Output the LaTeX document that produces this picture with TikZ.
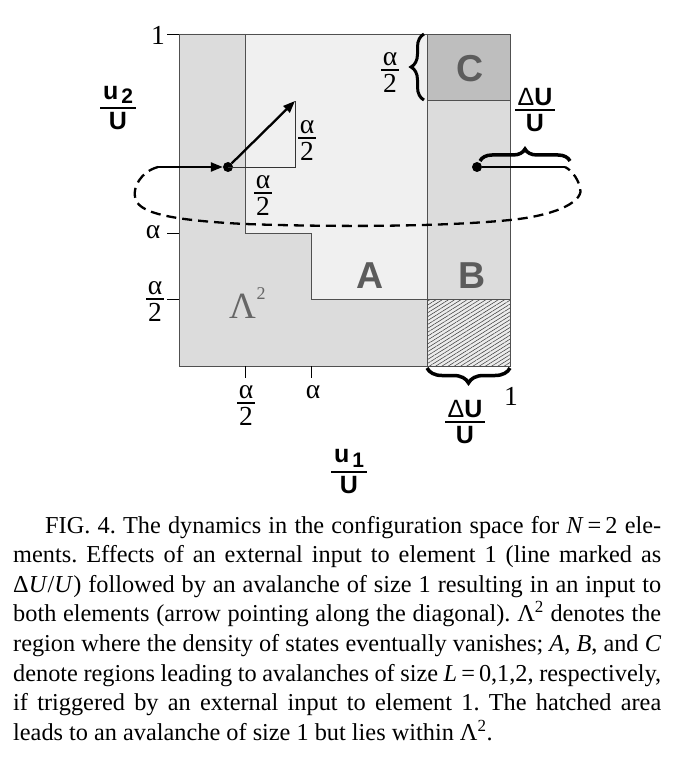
\documentclass[tikz,border=0pt]{standalone}
\usepackage{fontspec}
\setmainfont{Liberation Serif}
\newfontfamily\hsans{Liberation Sans}
\usetikzlibrary{decorations.pathreplacing,patterns.meta,arrows.meta}
\definecolor{lamgray}{HTML}{DCDCDC}
\definecolor{agray}{HTML}{F0F0F0}
\definecolor{cgray}{HTML}{BEBEBE}
\definecolor{hatchbg}{HTML}{ECECEC}
\definecolor{lblgray}{HTML}{5C5C5C}
\definecolor{lamtext}{HTML}{666666}
\definecolor{edgegray}{HTML}{505050}
% fraction whose baseline is the middle of the bar
\newcommand\frc[3][2pt]{\begingroup
 \setbox0=\hbox{\kern#1#2\kern#1}\setbox2=\hbox{\kern#1#3\kern#1}%
 \ifdim\wd0<\wd2 \setbox0=\hbox to\wd2{\hfil\box0\hfil}\else\setbox2=\hbox to\wd0{\hfil\box2\hfil}\fi
 \vtop{\vbox{\box0\kern3.5pt\hrule height0.7pt}\hrule height0.7pt\kern3.5pt\box2}\endgroup}
\tikzset{
 region/.style={draw=edgegray, line width=0.8pt},
 axistick/.style={draw=black, line width=0.8pt},
 guide/.style={draw=black!80, line width=0.8pt},
 seriflbl/.style={font=\fontsize{27.5}{30}\selectfont, inner sep=0pt},
 fraclbl/.style={font=\fontsize{27.5}{30}\selectfont, inner sep=0pt, anchor=base},
 sansfrac/.style={font=\hsans\bfseries\fontsize{25}{28}\selectfont, inner sep=0pt, anchor=base},
 biglbl/.style={font=\hsans\bfseries\fontsize{37.5}{40}\selectfont, text=lblgray, inner sep=0pt},
 dotnode/.style={circle, fill=black, inner sep=0pt, minimum size=10pt},
 thickline/.style={line width=2.3pt},
 arr/.style={line width=2.3pt, -{Triangle[length=12pt,width=9pt]}},
 dashcurve/.style={line width=2.3pt, dash pattern=on 10pt off 6pt},
 bracedeco/.style={decorate, decoration={brace, amplitude=#1}},
}
\begin{document}
\begin{tikzpicture}[x=1pt,y=-1pt]
\useasboundingbox (0,0) rectangle (683,759);
% ---------- regions ----------
\fill[lamgray] (179,34) -- (245,34) -- (245,233) -- (311,233) -- (311,299) -- (427,299) -- (427,366) -- (179,366) -- cycle;
\fill[agray] (245,34) -- (427,34) -- (427,299) -- (311,299) -- (311,233) -- (245,233) -- cycle;
\fill[lamgray] (427,100) rectangle (510,299);
\fill[cgray] (427,34) rectangle (510,100);
\fill[hatchbg] (427,299) rectangle (510,366);
\fill[pattern={Lines[angle=32,distance=3.3pt,line width=0.55pt]}, pattern color=black!75] (427,299) rectangle (510,366);
% ---------- region edges ----------
\draw[region] (245,34) -- (245,233) -- (311,233) -- (311,299) -- (427,299);
\draw[region] (427,34) -- (427,366);
\draw[region] (427,100) -- (510,100);
\draw[region] (427,299) -- (510,299);
\draw[region] (179,34) rectangle (510,366);
% ---------- ticks ----------
\draw[axistick] (167,34) -- (179,34);
\draw[axistick] (167,233) -- (179,233);
\draw[axistick] (167,299) -- (179,299);
\draw[axistick] (245,366) -- (245,378);
\draw[axistick] (311,366) -- (311,378);
% ---------- path and arrows ----------
\coordinate (lstart) at (158,167);
\coordinate (rend) at (565,167);
\coordinate (diagend) at (295,101);
\coordinate (corner) at (295,167);
\node[dotnode] (ldot) at (228,167) {};
\node[dotnode] (rdot) at (477,167) {};
\draw[dashcurve] (lstart) .. controls (140,172) and (133,188) .. (135,197)
  .. controls (137,212) and (165,220) .. (245,224)
  .. controls (330,227) and (440,227) .. (510,220)
  .. controls (560,215) and (585,200) .. (580,187)
  .. controls (577,177) and (571,170) .. (rend);
\draw[guide] (ldot.center) -- (corner) -- (diagend);
\draw[arr] (lstart) -- (ldot);
\draw[arr] (ldot) -- (diagend);
\draw[thickline] (rdot) -- (rend);
% ---------- braces ----------
\coordinate (bb1) at (510,368);
\coordinate (bb2) at (427,368);
\draw[bracedeco=15pt, line width=3.5pt] (bb1) -- (bb2);
\coordinate (cb1) at (424,100);
\coordinate (cb2) at (424,34);
\draw[bracedeco=13pt, line width=3pt] (cb1) -- (cb2);
\coordinate (rb1) at (480,161);
\coordinate (rb2) at (570,161);
\draw[bracedeco=12pt, line width=3.5pt] (rb1) -- (rb2);
% ---------- region letters ----------
\node[biglbl] (lblA) at (370,275.5) {A};
\node[biglbl] (lblB) at (472,275.5) {B};
\node[biglbl] (lblC) at (470,69) {C};
\node[anchor=base west, font=\fontsize{37}{37}\selectfont, text=lamtext, inner sep=0pt] (lam) at (229,318) {Λ\kern0.5pt\raisebox{19pt}{\fontsize{18}{18}\selectfont 2}};
% ---------- axis labels ----------
\node[seriflbl] (one2) at (158,35) {1};
\node[seriflbl] (alph2) at (153,232) {α};
\node[fraclbl] (half2) at (155,299) {\frc[1.5pt]{α}{2}};
\node[fraclbl] (half1) at (246,403) {\frc[1.5pt]{α}{2}};
\node[seriflbl] (alph1) at (313,392) {α};
\node[seriflbl] (one1) at (511,396) {1};
\node[fraclbl] (halfC) at (390,70) {\frc[1.5pt]{α}{2}};
\node[fraclbl] (halfv) at (307,138) {\frc[1.5pt]{α}{2}};
\node[fraclbl] (halfh) at (263,193) {\frc[1.5pt]{α}{2}};
\node[sansfrac] (u2) at (118,108) {\frc[3pt]{u\kern3pt\raisebox{-4pt}{\fontsize{21}{21}\selectfont 2}}{U}};
\node[sansfrac] (u1) at (349,472) {\frc[3pt]{u\kern3pt\raisebox{-5pt}{\fontsize{21}{21}\selectfont 1}}{U}};
\node[sansfrac] (dUtop) at (535,110) {\frc[2.5pt]{{\mdseries Δ}U}{U}};
\node[sansfrac] (dUbot) at (465,422) {\frc[2.5pt]{{\mdseries Δ}U}{U}};
% ---------- caption ----------
\node[anchor=base west, inner sep=0pt, font=\fontsize{24.3}{29.6}\selectfont\frenchspacing] (cap) at (13,533) {\vtop{%
\hbox to 648pt{\hskip32pt FIG. 4. The dynamics in the configuration space for \textit{N}\,=\,2 ele-}
\hbox to 648pt{ments. Effects of an external input to element 1 (line marked as}
\hbox to 648pt{Δ\textit{U}/\textit{U}) followed by an avalanche of size 1 resulting in an input to}
\hbox to 648pt{both elements (arrow pointing along the diagonal). Λ\textsuperscript{2} denotes the}
\hbox to 648pt{region where the density of states eventually vanishes; \textit{A}, \textit{B}, and \textit{C}}
\hbox to 648pt{denote regions leading to avalanches of size \textit{L}\,=\,0,1,2, respectively,}
\hbox to 648pt{if triggered by an external input to element 1. The hatched area}
\hbox{leads to an avalanche of size 1 but lies within Λ\textsuperscript{2}.}}};
\end{tikzpicture}
\end{document}
